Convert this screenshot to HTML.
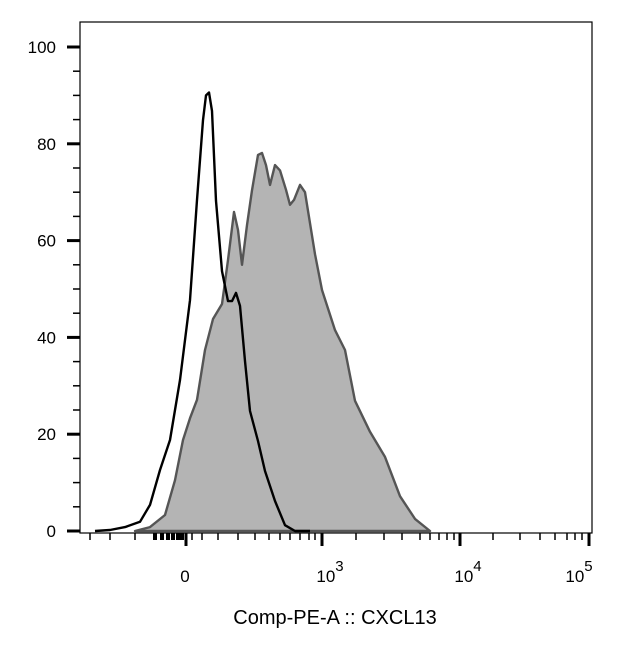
<!DOCTYPE html>
<html><head><meta charset="utf-8"><style>
body{margin:0;background:#fff}
svg text{font-family:"Liberation Sans","DejaVu Sans",sans-serif;fill:#000}
</style></head><body>
<svg id="chart" width="636" height="657" viewBox="0 0 636 657" xmlns="http://www.w3.org/2000/svg">
<g id="plot"></g>
</svg>
<script>
// channel units (0..1024 across plot width), counts normalized to max (%)
const openX = [30,60,90,120,140,160,180,200,220,234,246,252,258,264,272,284,296,304,312,320,330,340,356,370,390,410,430,460];
const openY = [0,0.2,0.8,1.9,5.4,12.6,18.8,31.2,47.7,68.4,84.9,90.0,90.6,86.8,68.2,53.7,47.5,47.5,49.2,46.5,35.1,24.8,18.6,12.4,6.2,1.2,0,0];
const fillX = [110,140,170,190,206,220,234,250,266,284,296,308,316,324,334,344,356,364,372,380,390,400,412,420,428,440,450,470,484,510,530,550,580,610,640,670,700];
const fillY = [0,0.8,3.3,10.5,18.8,23.3,27.1,37.4,43.8,46.9,56.0,65.9,62.2,55.0,63.2,70.4,77.7,78.1,75.6,71.5,75.6,74.5,70.5,67.4,68.4,71.5,70.0,57.2,49.8,41.5,37.4,26.9,20.5,15.3,7.2,2.5,0];
const yTicks = [0,20,40,60,80,100];
const xMajorVals = [212,484,760,1018];
const xMajorLabels = ["0","10^3","10^4","10^5"];

const L=80,R=592,T=22,B=533;
const sx=v=>L+v/1024*(R-L);
const sy=v=>531-v*4.84;
const NS="http://www.w3.org/2000/svg";
const g=document.getElementById('plot');
function mk(tag,attrs){const e=document.createElementNS(NS,tag);for(const k in attrs)e.setAttribute(k,attrs[k]);g.appendChild(e);return e;}

let d="M"+sx(fillX[0])+","+sy(0);
fillX.forEach((x,i)=>{d+=" L"+sx(x).toFixed(1)+","+sy(fillY[i]).toFixed(1);});
d+=" L"+sx(fillX[fillX.length-1])+","+sy(0)+" Z";
const fp=mk('path',{d:d,fill:'#b4b4b4',stroke:'#555',"stroke-width":2.4,"stroke-linejoin":"round"});



let d2="";
openX.forEach((x,i)=>{d2+=(i?" L":"M")+sx(x).toFixed(1)+","+sy(openY[i]).toFixed(1);});
const op=mk('path',{d:d2,fill:'none',stroke:'#000',"stroke-width":2.4,"stroke-linejoin":"round"});



const fr=mk('rect',{x:L,y:T,width:R-L,height:B-T,fill:'none',stroke:'#000',"stroke-width":1.2});



for(let v=0;v<=104;v+=5){
  const major=v%20===0;
  const t=mk('line',{x1:major?67:73,x2:L,y1:sy(v),y2:sy(v),stroke:'#000',"stroke-width":major?3:1.5});
  
  
}
yTicks.forEach(v=>{
  const t=mk('text',{x:56,y:sy(v)+6,"text-anchor":"end","font-size":"17"});
  t.textContent=v;
  
  
});

const minor=[20,60,110,150,164,176,186,196,204,224,244,276,316,350,378,400,420,440,458,470,552,608,644,680,700,718,734,748,826,880,920,950,974,990,1004];
minor.forEach(v=>{
  const t=mk('line',{x1:sx(v),x2:sx(v),y1:B,y2:B+7,stroke:'#000',"stroke-width":(v>140&&v<210)?4:1.5});
  
  
});
xMajorVals.forEach((v,i)=>{
  const t=mk('line',{x1:sx(v),x2:sx(v),y1:B,y2:B+13,stroke:'#000',"stroke-width":3});
  
  
  const lab=xMajorLabels[i];
  const tx=mk('text',{x:sx(v)-1,y:582,"text-anchor":"middle","font-size":"17"});
  
  
  if(lab.indexOf('^')>0){
    const p=lab.split('^');
    tx.setAttribute('x',sx(v)+(i===3?-10:8));
    tx.innerHTML=p[0]+'<tspan dy="-11" font-size="15">'+p[1]+'</tspan>';
  } else tx.textContent=lab;
});

const title=mk('text',{x:335,y:624,"text-anchor":"middle","font-size":"20"});
title.textContent="Comp-PE-A :: CXCL13";


</script>
</body></html>
